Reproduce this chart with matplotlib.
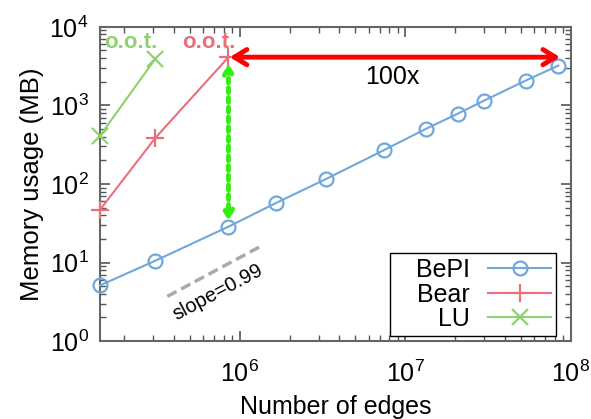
import matplotlib
matplotlib.use("Agg")
import matplotlib.pyplot as plt
from matplotlib.ticker import LogLocator, NullFormatter

plt.rcParams['font.family'] = ['Liberation Sans', 'DejaVu Sans']
plt.rcParams['mathtext.fontset'] = 'custom'
plt.rcParams['mathtext.rm'] = 'Liberation Sans'
plt.rcParams['mathtext.it'] = 'Liberation Sans'

# Data
bepi_edges = [1.43e5, 3.08e5, 8.55e5, 1.65e6, 3.33e6, 7.47e6, 1.33e7, 2.08e7, 2.99e7, 5.33e7, 8.4e7]
bepi_mem = [5.1, 10.5, 28.6, 57, 116, 271, 502, 787, 1150, 2070, 3210]
bear_edges = [1.43e5, 3.08e5, 8.55e5]
bear_mem = [46.7, 382, 4110]
lu_edges = [1.43e5, 3.08e5]
lu_mem = [409, 3880]
series_names = ["BePI", "Bear", "LU"]
x_ticks = [1e6, 1e7, 1e8]
y_ticks = [1, 10, 100, 1000, 10000]

c_bepi = '#6fa8dc'
c_bear = '#e8707a'
c_lu = '#8fd16f'

fig = plt.figure(figsize=(5.91, 4.19), dpi=100)
ax = fig.add_axes([0.169, 0.186, 0.797, 0.750])

ax.plot(bepi_edges, bepi_mem, color=c_bepi, marker='o', ms=10, mfc='none', mew=1.6, lw=1.5,
        label=series_names[0], clip_on=False, zorder=3)
ax.plot(bear_edges, bear_mem, color=c_bear, marker='+', ms=13, mew=1.6, lw=1.5,
        label=series_names[1], clip_on=False, zorder=3)
ax.plot(lu_edges, lu_mem, color=c_lu, marker='x', ms=11, mew=1.6, lw=1.5,
        label=series_names[2], clip_on=False, zorder=3)

ax.set_xscale('log')
ax.set_yscale('log')
ax.set_xlim(1.43e5, 1.0e8)
ax.set_ylim(1, 1e4)
ax.set_xticks(x_ticks)
ax.set_yticks(y_ticks)
ax.xaxis.set_minor_locator(LogLocator(base=10, subs=range(2, 10), numticks=20))
ax.yaxis.set_minor_locator(LogLocator(base=10, subs=range(2, 10), numticks=20))
ax.xaxis.set_minor_formatter(NullFormatter())
ax.yaxis.set_minor_formatter(NullFormatter())
ax.tick_params(which='both', direction='in', top=True, right=True, colors='#555555', labelcolor='black')
ax.tick_params(which='major', length=7, width=1.2, labelsize=18)
ax.tick_params(axis='x', which='major', pad=14)
ax.tick_params(axis='y', which='major', pad=8)
ax.tick_params(which='minor', length=4, width=1.0)
for s in ax.spines.values():
    s.set_color('#666666')
    s.set_linewidth(1.5)

ax.set_xlabel('Number of edges', fontsize=18, labelpad=6)
ax.set_ylabel('Memory usage (MB)', fontsize=18.5, labelpad=4)

# Annotations
ax.annotate('', xy=(8.6e7, bear_mem[2]), xytext=(8.7e5, bear_mem[2]),
            arrowprops=dict(arrowstyle='<->,head_length=0.9,head_width=0.55', color='#ff0000', lw=3.5,
                            shrinkA=0, shrinkB=0))
ax.text(8.3e6, 2300, '100x', fontsize=18, ha='center', va='center')
ax.annotate('', xy=(8.55e5, 34), xytext=(8.55e5, 3400),
            arrowprops=dict(arrowstyle='<->,head_length=0.5,head_width=0.3', color='#33ee11', lw=3.5,
                            linestyle=(0, (1, 1)), shrinkA=0, shrinkB=0))
ax.text(2.2e5, 6300, 'o.o.t.', fontsize=16, color=c_lu, ha='center', va='center', fontweight='bold')
ax.text(6.5e5, 6300, 'o.o.t.', fontsize=16, color=c_bear, ha='center', va='center', fontweight='bold')
ax.plot([3.65e5, 1.37e6], [3.7, 16.5], color='#aaaaaa', lw=2.5, ls=(0, (3, 1.5)))
ax.text(7.4e5, 4.15, 'slope=0.99', fontsize=14.5, rotation=28, ha='center', va='center')

leg = ax.legend(loc='lower right', bbox_to_anchor=(0.968, 0.016), borderaxespad=0, markerfirst=False,
                fontsize=18, fancybox=False, edgecolor='black', handlelength=2.5, handletextpad=0.75,
                labelspacing=0.02, borderpad=0.2, framealpha=1)
leg.get_frame().set_linewidth(1.0)
for t in leg.get_texts():
    t.set_text('   ' + t.get_text())
    t.set_ha('right')
leg._legend_box.align = 'right'

fig.savefig('out.png', dpi=100)
